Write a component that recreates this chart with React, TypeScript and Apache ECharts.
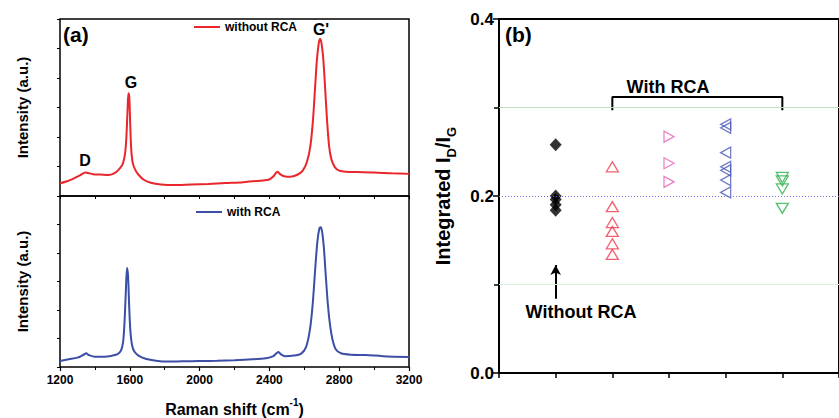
import React, { useEffect, useRef } from "react";
import * as echarts from "echarts";

// Panel (a): Raman spectra [shift (cm^-1), intensity (a.u.)]
const spectrumWithout: [number, number][] = [
  [1200, 0.43], [1240, 0.5], [1280, 0.6], [1320, 0.72], [1345, 0.8], [1360, 0.78], [1390, 0.74],
  [1430, 0.73], [1480, 0.71], [1520, 0.8], [1545, 0.95], [1560, 1.1], [1572, 1.4], [1580, 1.95],
  [1587, 2.9], [1592, 3.48], [1597, 3.35], [1602, 2.5], [1608, 1.6], [1616, 1.15], [1630, 0.9],
  [1650, 0.72], [1680, 0.55], [1720, 0.45], [1780, 0.39], [1850, 0.37], [1950, 0.39], [2050, 0.41],
  [2150, 0.44], [2250, 0.47], [2350, 0.52], [2400, 0.56], [2425, 0.68], [2445, 0.82], [2460, 0.75],
  [2480, 0.68], [2520, 0.65], [2560, 0.72], [2590, 0.85], [2615, 1.15], [2635, 1.7], [2650, 2.6],
  [2662, 3.7], [2672, 4.6], [2682, 5.15], [2690, 5.32], [2698, 5.2], [2708, 4.7], [2718, 3.8],
  [2730, 2.6], [2742, 1.7], [2755, 1.25], [2775, 0.98], [2800, 0.86], [2840, 0.82], [2900, 0.81],
  [3000, 0.8], [3100, 0.77], [3200, 0.75],
];
const spectrumWith: [number, number][] = [
  [1200, 0.21], [1250, 0.27], [1300, 0.33], [1335, 0.43], [1350, 0.48], [1365, 0.42], [1400, 0.36],
  [1450, 0.36], [1500, 0.4], [1530, 0.45], [1550, 0.58], [1562, 0.9], [1570, 1.6], [1577, 2.6],
  [1584, 3.47], [1590, 3.2], [1596, 2.2], [1603, 1.3], [1612, 0.8], [1625, 0.55], [1650, 0.4],
  [1690, 0.29], [1750, 0.22], [1820, 0.19], [1900, 0.2], [2000, 0.21], [2100, 0.22], [2200, 0.24],
  [2300, 0.27], [2380, 0.31], [2420, 0.37], [2440, 0.48], [2452, 0.53], [2465, 0.45], [2490, 0.38],
  [2540, 0.4], [2580, 0.46], [2610, 0.7], [2632, 1.3], [2648, 2.2], [2662, 3.4], [2675, 4.4],
  [2686, 4.85], [2694, 4.9], [2702, 4.75], [2712, 4.2], [2722, 3.3], [2735, 2.2], [2748, 1.45],
  [2762, 0.95], [2780, 0.62], [2810, 0.48], [2870, 0.43], [2950, 0.42], [3050, 0.38], [3200, 0.35],
];
const xTicksA = { min: 1200, max: 3200, interval: 400 };

// Panel (b): integrated ID/IG ratios per sample group
const ratioWithout = [0.258, 0.2, 0.196, 0.19, 0.184];
const ratioRCA1 = [0.233, 0.188, 0.17, 0.16, 0.146, 0.134];
const ratioRCA2 = [0.267, 0.237, 0.216];
const ratioRCA3 = [0.281, 0.277, 0.249, 0.233, 0.229, 0.218, 0.204];
const ratioRCA4 = [0.221, 0.217, 0.208, 0.186];
const groupX = [1, 2, 3, 4, 5];
const refLines = [0.1, 0.2, 0.3];
const bracket: [number, number][] = [[2, 0.297], [2, 0.312], [5, 0.312], [5, 0.297]];
const arrowFromTo: [number, number][] = [[1, 0.084], [1, 0.122]];

const FONT = "Liberation Sans, Arial, sans-serif";

export default function App() {
  const ref = useRef<HTMLDivElement>(null);
  useEffect(() => {
    if (!ref.current) return;
    const chart = echarts.init(ref.current, undefined, { renderer: "svg" });
    const black = "#000";
    const hollow = (color: string, symbol: string, rotate: number, size: number | number[]) => ({
      symbol,
      symbolRotate: rotate,
      symbolSize: size,
      itemStyle: { color: "rgba(0,0,0,0)", borderColor: color, borderWidth: 1.3 },
    });
    const pts = (x: number, arr: number[]) => arr.map((v) => [x, v]);
    const txt = (x: number, y: number, text: string, size: number, align = "center") => ({
      type: "text",
      x,
      y,
      style: {
        text,
        fill: black,
        fontSize: size,
        fontWeight: "bold",
        fontFamily: FONT,
        align,
        textAlign: align,
        verticalAlign: "middle",
        textVerticalAlign: "middle",
      },
    });
    chart.setOption({
      animation: false,
      textStyle: { fontFamily: FONT },
      grid: [
        { left: 60, top: 19, width: 349, height: 177, show: true, borderColor: black, borderWidth: 1.5 },
        { left: 60, top: 196, width: 349, height: 176, show: true, borderColor: black, borderWidth: 1.5 },
        { left: 499, top: 19, width: 350, height: 354, show: true, borderColor: black, borderWidth: 2 },
      ],
      legend: [
        {
          data: ["without RCA"], left: 194, top: 21, icon: "rect", itemWidth: 26, itemHeight: 2,
          textStyle: { fontSize: 12, fontWeight: "bold", color: black, fontFamily: FONT }, padding: 0,
        },
        {
          data: ["with RCA"], left: 196, top: 206, icon: "rect", itemWidth: 26, itemHeight: 2,
          textStyle: { fontSize: 12, fontWeight: "bold", color: black, fontFamily: FONT }, padding: 0,
        },
      ],
      xAxis: [
        {
          gridIndex: 0, type: "value", min: xTicksA.min, max: xTicksA.max, interval: xTicksA.interval / 2,
          axisLine: { show: false }, axisTick: { show: true, length: 3, lineStyle: { color: black } },
          axisLabel: { show: false }, splitLine: { show: false },
        },
        {
          gridIndex: 1, type: "value", min: xTicksA.min, max: xTicksA.max, interval: xTicksA.interval,
          axisLine: { show: false },
          axisTick: { show: true, length: 4, lineStyle: { color: black, width: 1.2 } },
          minorTick: { show: true, splitNumber: 2, length: 3, lineStyle: { color: black } },
          axisLabel: {
            fontSize: 12, fontWeight: "bold", color: black, margin: 7, fontFamily: FONT,
            formatter: (v: number) => String(v),
          },
          splitLine: { show: false },
          name: "{a|Raman shift (cm}{s|-1}{a|)}",
          nameLocation: "middle",
          nameGap: 30,
          nameTextStyle: {
            rich: {
              a: { fontSize: 16, fontWeight: "bold", color: black, fontFamily: FONT, lineHeight: 20, verticalAlign: "bottom" },
              s: { fontSize: 10, fontWeight: "bold", color: black, fontFamily: FONT, lineHeight: 10, verticalAlign: "top", padding: [0, 0, 8, 0] },
            },
          },
        },
        {
          gridIndex: 2, type: "value", min: 0, max: 6, interval: 1,
          axisLine: { show: true, lineStyle: { color: black, width: 2 } },
          axisTick: { show: true, length: 5, lineStyle: { color: black, width: 1.5 } },
          axisLabel: { show: false }, splitLine: { show: false },
        },
      ],
      yAxis: [0, 1].map((g) => ({
        gridIndex: g, type: "value", min: 0, max: 6, interval: 1,
        axisLine: { show: false },
        axisTick: { show: true, length: 3, lineStyle: { color: black } },
        axisLabel: { show: false }, splitLine: { show: false },
        name: "Intensity (a.u.)", nameLocation: "middle", nameGap: 30,
        nameTextStyle: { fontSize: 15, fontWeight: "bold", color: black, fontFamily: FONT },
      })).concat([
        {
          gridIndex: 2, type: "value", min: 0, max: 0.4, interval: 0.2,
          axisLine: { show: true, lineStyle: { color: black, width: 2 } },
          axisTick: { show: true, length: 6, lineStyle: { color: black, width: 1.5 } },
          minorTick: { show: true, splitNumber: 2, length: 5, lineStyle: { color: black, width: 1.5 } },
          axisLabel: {
            show: true, fontSize: 17, fontWeight: "bold", color: black, margin: 5, fontFamily: FONT,
            formatter: (v: number) => v.toFixed(1),
          },
          splitLine: { show: false },
          name: "{a|Integrated I}{s|D}{a|/I}{s|G}",
          nameLocation: "middle", nameRotate: 90, nameGap: 44,
          nameTextStyle: {
            rich: {
              a: { fontSize: 20, fontWeight: "bold", color: black, fontFamily: FONT, lineHeight: 22, verticalAlign: "top" },
              s: { fontSize: 13, fontWeight: "bold", color: black, fontFamily: FONT, lineHeight: 14, verticalAlign: "top", padding: [12, 0, 0, 0] },
            },
          },
        } as any,
      ]),
      series: [
        {
          name: "without RCA", type: "line", xAxisIndex: 0, yAxisIndex: 0, data: spectrumWithout,
          showSymbol: false, smooth: 0.3, lineStyle: { color: "#e8262c", width: 2 }, itemStyle: { color: "#e8262c" },
        },
        {
          name: "with RCA", type: "line", xAxisIndex: 1, yAxisIndex: 1, data: spectrumWith,
          showSymbol: false, smooth: 0.3, lineStyle: { color: "#3c4ea6", width: 2 }, itemStyle: { color: "#3c4ea6" },
        },
        {
          type: "scatter", xAxisIndex: 2, yAxisIndex: 2, data: pts(groupX[0], ratioWithout),
          symbol: "diamond", symbolSize: [12, 13], itemStyle: { color: black },
          markLine: {
            silent: true, symbol: ["none", "arrow"], symbolSize: [8, 10],
            label: { show: false },
            lineStyle: { color: black, width: 2, type: "solid" },
            data: [[{ coord: arrowFromTo[0] }, { coord: arrowFromTo[1] }]],
          },
        },
        { type: "scatter", xAxisIndex: 2, yAxisIndex: 2, data: pts(groupX[1], ratioRCA1), ...hollow("#ef3b4a", "triangle", 0, [12, 10]) },
        { type: "scatter", xAxisIndex: 2, yAxisIndex: 2, data: pts(groupX[2], ratioRCA2), ...hollow("#e35fb5", "triangle", -90, [11, 10]) },
        { type: "scatter", xAxisIndex: 2, yAxisIndex: 2, data: pts(groupX[3], ratioRCA3), ...hollow("#4a5ab8", "triangle", 90, [11, 10]) },
        { type: "scatter", xAxisIndex: 2, yAxisIndex: 2, data: pts(groupX[4], ratioRCA4), ...hollow("#2db24a", "triangle", 180, [12, 10]) },
        {
          type: "line", xAxisIndex: 2, yAxisIndex: 2, data: bracket, showSymbol: false, silent: true,
          lineStyle: { color: black, width: 2 }, z: 1,
          markLine: {
            silent: true, symbol: "none", label: { show: false },
            data: refLines.map((v) => ({
              yAxis: v,
              lineStyle: v === 0.2
                ? { color: "#6b6be0", width: 1, type: [1, 2] }
                : { color: v === 0.3 ? "#bfe3bf" : "#dcefdc", width: 1, type: "solid" },
            })),
          },
        },
      ],
      graphic: [
        txt(63, 34, "(a)", 21, "left"),
        txt(131, 82, "G", 16),
        txt(85, 160, "D", 16),
        txt(321, 29, "G'", 16),
        txt(505, 34, "(b)", 21, "left"),
        txt(668, 87, "With RCA", 18),
        txt(581, 312, "Without RCA", 18),
      ],
    });
    return () => chart.dispose();
  }, []);
  return <div ref={ref} style={{ position: "absolute", left: 0, top: 0, width: 839, height: 418 }} />;
}
